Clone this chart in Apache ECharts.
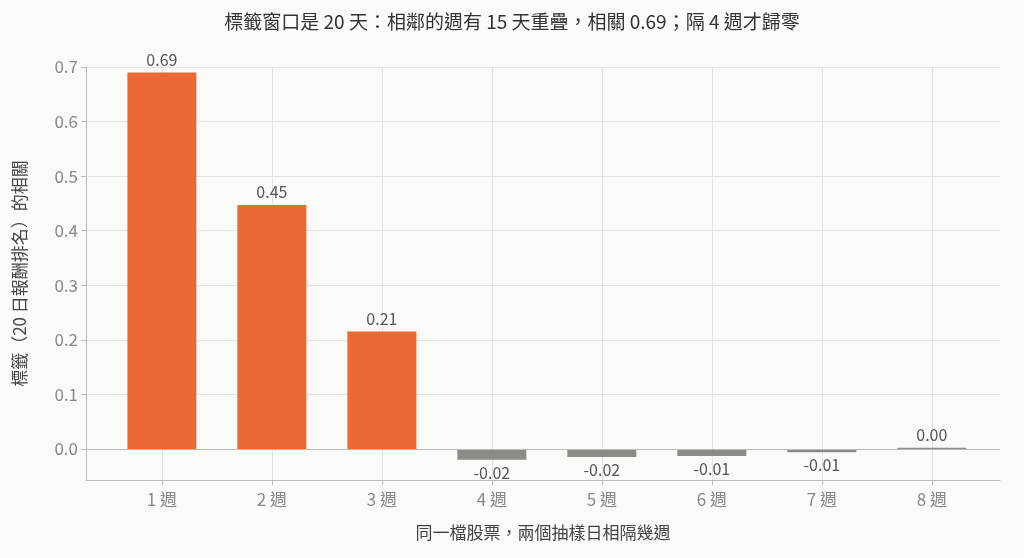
<!DOCTYPE html>
<html><head><meta charset="utf-8">
<script src="https://cdn.jsdelivr.net/npm/echarts@6/dist/echarts.min.js"></script>
<style>html,body{margin:0;background:#fafaf7}#c{width:1024px;height:558px}</style>
</head><body><div id="c"></div>
<script>
const categories = ['1 週','2 週','3 週','4 週','5 週','6 週','7 週','8 週'];
const values = [0.69, 0.447, 0.215, -0.020, -0.015, -0.013, -0.006, 0.002];
const labels = ['0.69','0.45','0.21','-0.02','-0.02','-0.01','-0.01','0.00'];
const yTicks = [0,0.1,0.2,0.3,0.4,0.5,0.6,0.7];
const font = '"Noto Sans CJK TC", "Noto Sans", sans-serif';
const chart = echarts.init(document.getElementById('c'));
chart.setOption({
  backgroundColor:'#fafaf7',
  textStyle:{fontFamily:font},
  title:{text:'標籤窗口是 20 天：相鄰的週有 15 天重疊，相關 0.69；隔 4 週才歸零',left:'center',top:7,
    textStyle:{fontFamily:font,fontSize:19,fontWeight:'normal',color:'#333'}},
  grid:{left:86,right:24,top:67,bottom:78},
  xAxis:{type:'value',min:0.31,max:8.62,
    axisLine:{show:true,onZero:false,lineStyle:{color:'#bbb'}},
    axisTick:{show:true,customValues:[1,2,3,4,5,6,7,8],lineStyle:{color:'#bbb'}},
    axisLabel:{customValues:[1,2,3,4,5,6,7,8],formatter:v=>categories[Math.round(v)-1],color:'#888',fontSize:17,margin:11},
    splitLine:{show:true,lineStyle:{color:'#e3e3e3'}},
    name:'同一檔股票，兩個抽樣日相隔幾週',nameLocation:'middle',nameGap:44,
    nameTextStyle:{color:'#444',fontSize:17}},
  yAxis:{type:'value',min:-0.057,max:0.7,
    axisLine:{show:true,lineStyle:{color:'#bbb'}},
    axisTick:{show:true,customValues:yTicks,lineStyle:{color:'#bbb'}},
    axisLabel:{customValues:yTicks,formatter:v=>v.toFixed(1),color:'#888',fontSize:17},
    splitLine:{show:true,lineStyle:{color:'#e3e3e3'}},
    name:'標籤（20 日報酬排名）的相關',nameLocation:'middle',nameGap:58,
    nameTextStyle:{color:'#444',fontSize:17}},
  series:[{type:'bar',barWidth:69,
    data:values.map((v,i)=>({value:[i+1,v],
      itemStyle:{color:v>0.1?'#ea6935':'#8c8c86'},
      label:{show:true,position:v<0?'bottom':'top',formatter:labels[i],color:'#555',fontSize:16}})),
    markLine:{silent:true,symbol:'none',label:{show:false},lineStyle:{color:'#bbb',type:'solid',width:1},data:[{yAxis:0}]}
  }]
});
</script></body></html>
